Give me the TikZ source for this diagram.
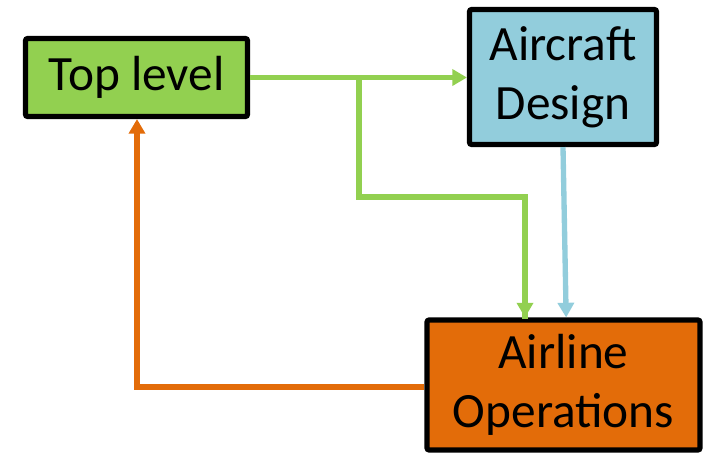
\documentclass[tikz,border=0pt]{standalone}
\usepackage{fontspec}
\setmainfont{Carlito}
\usetikzlibrary{arrows.meta,calc}
\definecolor{boxgreen}{HTML}{92D050}
\definecolor{boxblue}{HTML}{92CDDC}
\definecolor{boxorange}{HTML}{E36C09}
\tikzset{
  blk/.style={draw=black, line width=3.8pt, rounded corners=1.5pt, align=center, inner sep=0pt,
    font=\fontsize{37}{44}\selectfont},
  conn/.style={line width=4pt, -{Triangle[length=11pt,width=12pt]}},
}
\begin{document}
\begin{tikzpicture}[x=0.75pt,y=-0.75pt]
\useasboundingbox (0,0) rectangle (706,455);
\node[blk, fill=boxgreen, minimum width=222*0.75pt, minimum height=78*0.75pt] (top) at (136.5,77.5) {Top level};
\node[blk, fill=boxblue, minimum width=187*0.75pt, minimum height=135*0.75pt] (ad) at (563,77) {Aircraft\\Design};
\node[blk, fill=boxorange, minimum width=273*0.75pt, minimum height=130*0.75pt] (ao) at (563.5,385) {Airline\\Operations};
\coordinate (g1) at (359,78);
\coordinate (g2) at (525,197);
\coordinate (o1) at (137,387);
\draw[conn, boxgreen] (top.east) -- (top.east -| ad.west);
\draw[line width=4pt, boxgreen, line join=miter] (g1) |- (g2) -- ([yshift=-1pt]g2 |- ao.north);
\draw[conn, boxgreen] (g2) -- (g2 |- ao.north);
\draw[conn, boxblue] ([xshift=0pt]ad.south) -- ([xshift=2pt]ao.north);
\draw[conn, boxorange, line join=miter] (ao.west |- o1) -- (o1) -- (o1 |- top.south);
\end{tikzpicture}
\end{document}
